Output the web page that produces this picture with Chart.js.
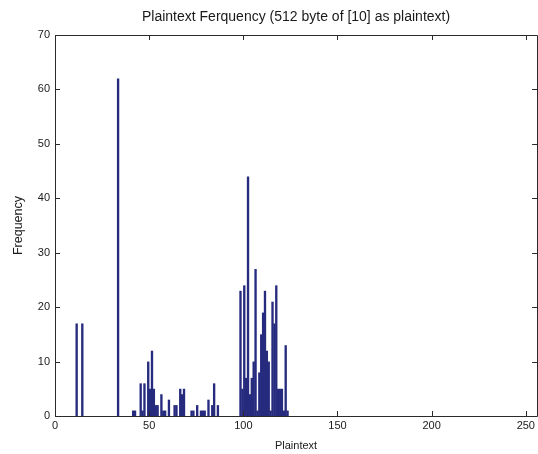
<!DOCTYPE html>
<html>
<head>
<meta charset="utf-8">
<script src="https://cdn.jsdelivr.net/npm/chart.js@4.4.1/dist/chart.umd.min.js"></script>
<style>
  html, body { margin: 0; padding: 0; background: #fff; }
  #wrap { width: 538px; height: 454px; }
</style>
</head>
<body>
<div id="wrap"><canvas id="hist"></canvas></div>
<script>
// Byte values present in the plaintext and how often each occurs.
// Counts are indexed 1-based, so byte b fills the bin [b+1, b+2].
const byteValues = [
  10, 13, 32,
  40, 41, 44, 45, 46, 48, 49, 50, 51, 52, 53, 55, 56, 57, 59, 62, 63,
  65, 66, 67, 71, 72, 74, 76, 77, 78, 80, 82, 83, 85,
  97, 98, 99, 100, 101, 102, 103, 104, 105, 106, 107, 108, 109, 110,
  111, 112, 113, 114, 115, 116, 117, 118, 119, 120, 121, 122
];
const byteCounts = [
  17, 17, 62,
  1, 1, 6, 1, 6, 10, 5, 12, 5, 2, 2, 4, 1, 1, 3, 2, 2,
  5, 4, 5, 1, 1, 2, 1, 1, 1, 3, 2, 6, 2,
  23, 5, 24, 7, 44, 4, 7, 10, 27, 1, 8, 15, 19, 23,
  12, 10, 1, 21, 17, 24, 5, 5, 5, 1, 13, 1
];
const xTicks = [0, 50, 100, 150, 200, 250];
const yTicks = [0, 10, 20, 30, 40, 50, 60, 70];

const AXIS_COLOR = '#2a2a2a';
const TEXT_COLOR = '#1a1a1a';
const BAR_COLOR = '#262b7e';
const FAMILY = 'Arial, "Liberation Sans", sans-serif';
const FONT = { family: FAMILY, size: 11 };

// MATLAB-style box: full frame with short inward tick marks on every side
const boxTicks = {
  id: 'boxTicks',
  afterDraw(chart) {
    const { ctx, chartArea: a, scales: { x, y } } = chart;
    const len = 5;
    ctx.save();
    ctx.strokeStyle = AXIS_COLOR;
    ctx.lineWidth = 1;
    ctx.beginPath();
    ctx.rect(Math.round(a.left) + 0.5, Math.round(a.top) + 0.5,
             Math.round(a.right - a.left), Math.round(a.bottom - a.top));
    xTicks.forEach(v => {
      const px = Math.round(x.getPixelForValue(v)) + 0.5;
      ctx.moveTo(px, a.bottom); ctx.lineTo(px, a.bottom - len);
      ctx.moveTo(px, a.top);    ctx.lineTo(px, a.top + len);
    });
    yTicks.forEach(v => {
      const py = Math.round(y.getPixelForValue(v)) + 0.5;
      ctx.moveTo(a.left, py);  ctx.lineTo(a.left + len, py);
      ctx.moveTo(a.right, py); ctx.lineTo(a.right - len, py);
    });
    ctx.stroke();
    ctx.restore();
  }
};

new Chart(document.getElementById('hist'), {
  type: 'bar',
  data: {
    datasets: [{
      data: byteValues.map((b, i) => ({ x: b + 1.5, y: byteCounts[i] })),
      backgroundColor: BAR_COLOR,
      borderWidth: 0,
      // bars carry a dark edge, so each face reads a bit wider than its bin
      barPercentage: 1.25,
      categoryPercentage: 1,
    }],
  },
  options: {
    responsive: true,
    maintainAspectRatio: false,
    animation: false,
    events: [],
    layout: { autoPadding: false, padding: { left: 0, top: 0, right: -2, bottom: 0 } },
    plugins: {
      legend: { display: false },
      tooltip: { enabled: false },
      title: {
        display: true,
        fullSize: false,
        text: 'Plaintext Ferquency (512 byte of [10] as plaintext)',
        color: TEXT_COLOR,
        font: { family: FAMILY, size: 14, weight: 'normal', lineHeight: 1 },
        padding: { top: 10, bottom: 11 },
      },
    },
    scales: {
      x: {
        type: 'linear',
        min: 0,
        max: 256,
        offset: false,
        afterFit(s) { s.height = 38; },
        afterBuildTicks(s) { s.ticks = xTicks.map(v => ({ value: v })); },
        grid: { display: false, drawTicks: false, offset: false },
        border: { display: false },
        ticks: { color: TEXT_COLOR, font: FONT, padding: 3, maxRotation: 0, autoSkip: false },
        title: { display: true, text: 'Plaintext', color: TEXT_COLOR, font: FONT, padding: { top: 0, bottom: 1.4 } },
      },
      y: {
        min: 0,
        max: 70,
        afterFit(s) { s.width = 55; },
        afterBuildTicks(s) { s.ticks = yTicks.map(v => ({ value: v })); },
        grid: { display: false, drawTicks: false },
        border: { display: false },
        ticks: { color: TEXT_COLOR, font: FONT, padding: 5 },
        title: { display: true, text: 'Frequency', color: TEXT_COLOR, font: { family: FAMILY, size: 12.5 }, padding: { top: 11.5, bottom: 0 } },
      },
    },
  },
  plugins: [boxTicks],
});
</script>
</body>
</html>
